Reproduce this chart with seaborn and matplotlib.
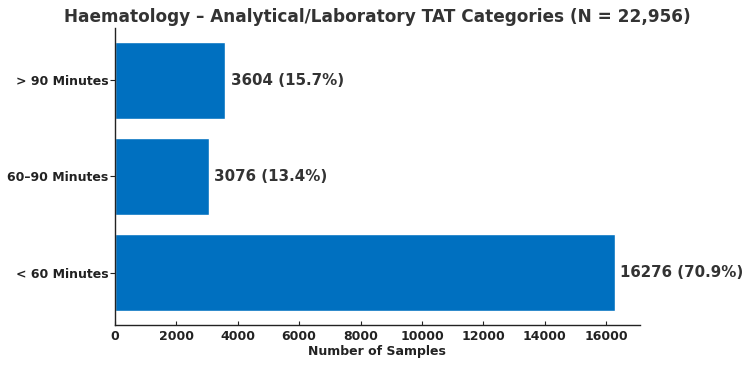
import matplotlib
matplotlib.use("Agg")
import matplotlib.pyplot as plt
import seaborn as sns
import pandas as pd

categories = ["< 60 Minutes", "60–90 Minutes", "> 90 Minutes"]
counts = [16276, 3076, 3604]
percents = [70.9, 13.4, 15.7]
title = "Haematology – Analytical/Laboratory TAT Categories (N = 22,956)"

sns.set_theme(style="ticks")
plt.rcParams["font.family"] = ["DejaVu Sans"]
plt.rcParams["font.weight"] = "bold"

df = pd.DataFrame({"cat": categories, "n": counts})

fig, ax = plt.subplots(figsize=(7.5, 3.65), dpi=100)
ax.barh(df["cat"], df["n"], color="#0070C0", height=0.8)
for i, (c, p) in enumerate(zip(counts, percents)):
    ax.text(c + 170, i, f"{c} ({p}%)", va="center", ha="left",
            fontsize=10.8, fontweight="bold", color="#333333")

ax.set_title(title, fontsize=12.2, fontweight="bold", color="#333333", pad=4.5)
ax.set_xlabel("Number of Samples", fontsize=9, fontweight="bold", color="#222222",
              labelpad=1.5)
ax.set_ylabel("")
ax.tick_params(axis="x", labelsize=9, colors="#222222", length=3, width=0.8,
               direction="in", pad=3.5)
ax.tick_params(axis="y", labelsize=9, colors="#222222", length=3.5, width=0.8,
               direction="out", pad=1)
for lbl in ax.get_xticklabels() + ax.get_yticklabels():
    lbl.set_fontweight("bold")
sns.despine(ax=ax)
for s in ["left", "bottom"]:
    ax.spines[s].set_color("#222222")
    ax.spines[s].set_linewidth(1.0)

fig.subplots_adjust(left=0.153, right=0.853, top=0.923, bottom=0.11)
fig.savefig("out.png", dpi=100)
